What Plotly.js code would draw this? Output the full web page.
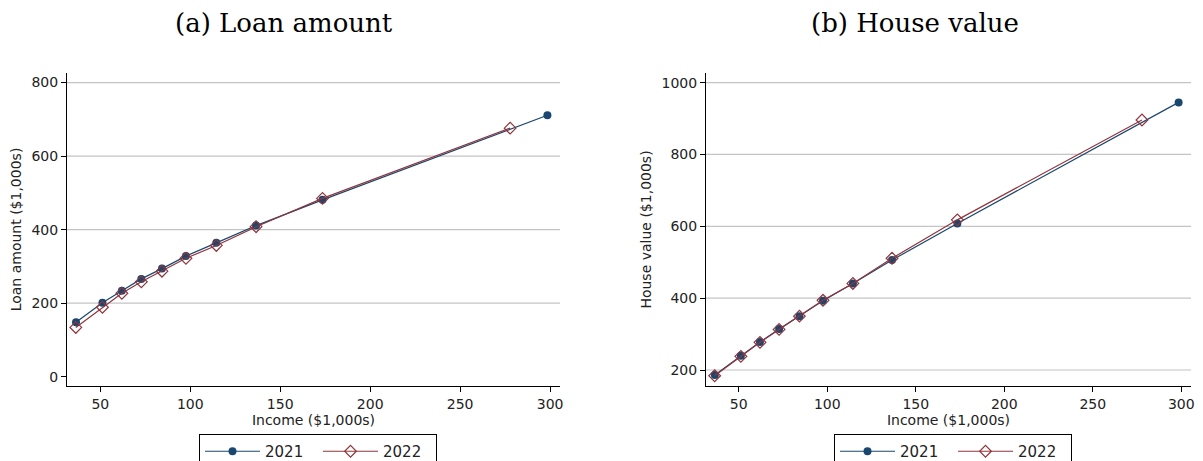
<!DOCTYPE html>
<html>
<head>
<meta charset="utf-8">
<script src="https://cdn.plot.ly/plotly-3.0.1.min.js"></script>
<style>html,body{margin:0;padding:0;background:#fff;}#chart{width:1203px;height:461px;}</style>
</head>
<body>
<div id="chart"></div>
<script>
// Data
const income2021 = [36.5, 51.2, 62.0, 72.8, 84.3, 97.6, 114.5, 136.6, 173.5, 298.5];
const income2022 = [36.4, 51.2, 62.0, 72.8, 84.3, 97.6, 114.5, 136.6, 173.5, 277.8];
const loan2021 = [148, 201, 234, 266, 294, 328, 364, 411, 481, 711];
const loan2022 = [134, 189, 227, 258, 287, 322, 357, 408, 485, 676];
const house2021 = [186, 240, 278, 314, 350, 393, 441, 506, 608, 945];
const house2022 = [184, 238, 277, 313, 350, 394, 441, 511, 618, 896];
const loanGrid = [200, 400, 600, 800];
const houseGrid = [200, 400, 600, 800, 1000];
const xTicks = [50, 100, 150, 200, 250, 300];

const blue = '#1a476f', red = '#90353b';
const tickFont = {family: 'DejaVu Sans', size: 14, color: '#222'};

function tr(x, y, name, xa, ya, lg, isRed) {
  return {
    x: x, y: y, name: name, type: 'scatter', mode: 'lines+markers',
    xaxis: xa, yaxis: ya, legend: lg,
    line: {color: isRed ? red : blue, width: 1.2},
    marker: isRed ? {symbol: 'diamond-open', size: 9, color: red, line: {width: 1.2, color: red}}
                  : {symbol: 'circle', size: 8, color: blue},
    cliponaxis: false
  };
}

const data = [
  tr(income2021, loan2021, '2021', 'x', 'y', 'legend', false),
  tr(income2022, loan2022, '2022', 'x', 'y', 'legend', true),
  tr(income2021, house2021, '2021', 'x2', 'y2', 'legend2', false),
  tr(income2022, house2022, '2022', 'x2', 'y2', 'legend2', true)
];

const W = 1203, H = 461;
function xaxisDef(d) {
  return {
    domain: d, range: [31.5, 305.5], tickvals: xTicks, showgrid: false, zeroline: false,
    showline: true, linecolor: '#000', linewidth: 1, ticks: 'outside', ticklen: 5, tickcolor: '#000',
    tickfont: tickFont, automargin: false,
    title: {text: 'Income ($1,000s)', font: tickFont, standoff: 2}
  };
}
function yaxisDef(range, ticks, title, anchor) {
  return {
    domain: [1 - 386 / H, 1 - 73 / H], range: range, tickvals: ticks, showgrid: false, zeroline: false,
    showline: true, linecolor: '#000', linewidth: 1, ticks: 'outside', ticklen: 5, tickcolor: '#000',
    tickfont: tickFont, automargin: false, anchor: anchor,
    title: {text: title, font: tickFont, standoff: 6}
  };
}

const shapes = [];
loanGrid.forEach(v => shapes.push({type: 'line', xref: 'x domain', yref: 'y', x0: 0, x1: 1, y0: v, y1: v,
  line: {color: '#c4c4c4', width: 1.2}, layer: 'below'}));
houseGrid.forEach(v => shapes.push({type: 'line', xref: 'x2 domain', yref: 'y2', x0: 0, x1: 1, y0: v, y1: v,
  line: {color: '#c4c4c4', width: 1.2}, layer: 'below'}));

const legendBase = {
  orientation: 'h', xanchor: 'left', yanchor: 'top', y: 1 - 434 / H,
  bordercolor: '#000', borderwidth: 1, bgcolor: '#fff',
  font: {family: 'DejaVu Sans', size: 15, color: '#222'}, itemwidth: 55,
  entrywidth: 48, entrywidthmode: 'pixels', tracegroupgap: 0
};

const layout = {
  width: W, height: H,
  margin: {l: 0, r: 0, t: 0, b: 0, autoexpand: false},
  paper_bgcolor: '#fff', plot_bgcolor: '#fff',
  showlegend: true,
  xaxis: Object.assign(xaxisDef([67 / W, 560 / W]), {anchor: 'y'}),
  yaxis: yaxisDef([-25.3, 826], [0, 200, 400, 600, 800], 'Loan amount ($1,000s)', 'x'),
  xaxis2: Object.assign(xaxisDef([706 / W, 1191 / W]), {anchor: 'y2'}),
  yaxis2: yaxisDef([155.5, 1026.8], [200, 400, 600, 800, 1000], 'House value ($1,000s)', 'x2'),
  legend: Object.assign({}, legendBase, {x: 199 / W}),
  legend2: Object.assign({}, legendBase, {x: 834 / W}),
  shapes: shapes,
  annotations: [
    {text: '(a) Loan amount', xref: 'paper', yref: 'paper', x: 284 / W, y: 1 - 23 / H, xanchor: 'center', yanchor: 'middle',
     showarrow: false, font: {family: 'DejaVu Serif', size: 26, color: '#000'}},
    {text: '(b) House value', xref: 'paper', yref: 'paper', x: 915 / W, y: 1 - 23 / H, xanchor: 'center', yanchor: 'middle',
     showarrow: false, font: {family: 'DejaVu Serif', size: 26, color: '#000'}}
  ]
};

Plotly.newPlot('chart', data, layout, {staticPlot: true, displayModeBar: false});
</script>
</body>
</html>
